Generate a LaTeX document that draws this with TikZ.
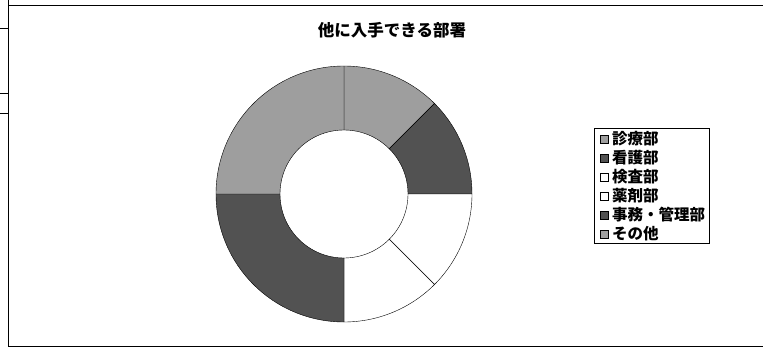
\documentclass[tikz,border=0pt]{standalone}
\usepackage{fontspec}
\newfontfamily\jpfont{Noto Sans CJK JP}
\tikzset{
  lightpart/.style={fill=black!38},
  darkpart/.style={fill=black!68},
  whitepart/.style={fill=white},
  keybox/.style={draw, thin, minimum size=8pt, inner sep=0pt},
  keytext/.style={anchor=west, inner sep=0pt, font=\jpfont\bfseries\fontsize{15.5}{15.5}\selectfont},
}
\begin{document}
\begin{tikzpicture}[x=1pt,y=1pt]
\pgfmathsetmacro{\myscale}{1};
\useasboundingbox (0,0) rectangle (763,349);

\begin{scope}[scale={\myscale}]

% chart frame and sheet cells
\draw[thick] (763,344) -- (8,344) -- (8,3) -- (763,3);
\draw[thick] (8,349) -- (8,321);
\draw (0,321) -- (8,321);
\draw (0,256) -- (8,256);
\draw (0,236) -- (8,236);

\node[font=\jpfont\bfseries\fontsize{16.5}{16.5}\selectfont] (title) at (392,319) {他に入手できる部署};

\begin{scope}
\pgfmathsetmacro{\rout}{128};
\pgfmathsetmacro{\rin}{64};

\coordinate (o) at (344,155);
\filldraw[lightpart] ([shift=(90:\rout)]o) arc [radius=\rout, start angle=90, end angle=45]
  -- ([shift=(45:\rin)]o) arc [radius=\rin, start angle=45, end angle=90] -- cycle;
\filldraw[darkpart] ([shift=(45:\rout)]o) arc [radius=\rout, start angle=45, end angle=0]
  -- ([shift=(0:\rin)]o) arc [radius=\rin, start angle=0, end angle=45] -- cycle;
\filldraw[whitepart] ([shift=(0:\rout)]o) arc [radius=\rout, start angle=0, end angle=-45]
  -- ([shift=(-45:\rin)]o) arc [radius=\rin, start angle=-45, end angle=0] -- cycle;
\filldraw[whitepart] ([shift=(-45:\rout)]o) arc [radius=\rout, start angle=-45, end angle=-90]
  -- ([shift=(-90:\rin)]o) arc [radius=\rin, start angle=-90, end angle=-45] -- cycle;
\filldraw[darkpart] ([shift=(-90:\rout)]o) arc [radius=\rout, start angle=-90, end angle=-180]
  -- ([shift=(-180:\rin)]o) arc [radius=\rin, start angle=-180, end angle=-90] -- cycle;
\filldraw[lightpart] ([shift=(180:\rout)]o) arc [radius=\rout, start angle=180, end angle=90]
  -- ([shift=(90:\rin)]o) arc [radius=\rin, start angle=90, end angle=180] -- cycle;
\end{scope}

% legend
\draw[thick] (594,106) rectangle (709,221);
\node[keybox, lightpart] (k1) at (604,210) {};
\node[keytext] (t1) at (612,210) {診療部};
\node[keybox, darkpart] (k2) at (604,191) {};
\node[keytext] (t2) at (612,191) {看護部};
\node[keybox, whitepart] (k3) at (604,172) {};
\node[keytext] (t3) at (612,172) {検査部};
\node[keybox, whitepart] (k4) at (604,153) {};
\node[keytext] (t4) at (612,153) {薬剤部};
\node[keybox, darkpart] (k5) at (604,134) {};
\node[keytext] (t5) at (612,134) {事務・管理部};
\node[keybox, lightpart] (k6) at (604,115) {};
\node[keytext] (t6) at (612,115) {その他};

\end{scope}
\end{tikzpicture}
\end{document}
